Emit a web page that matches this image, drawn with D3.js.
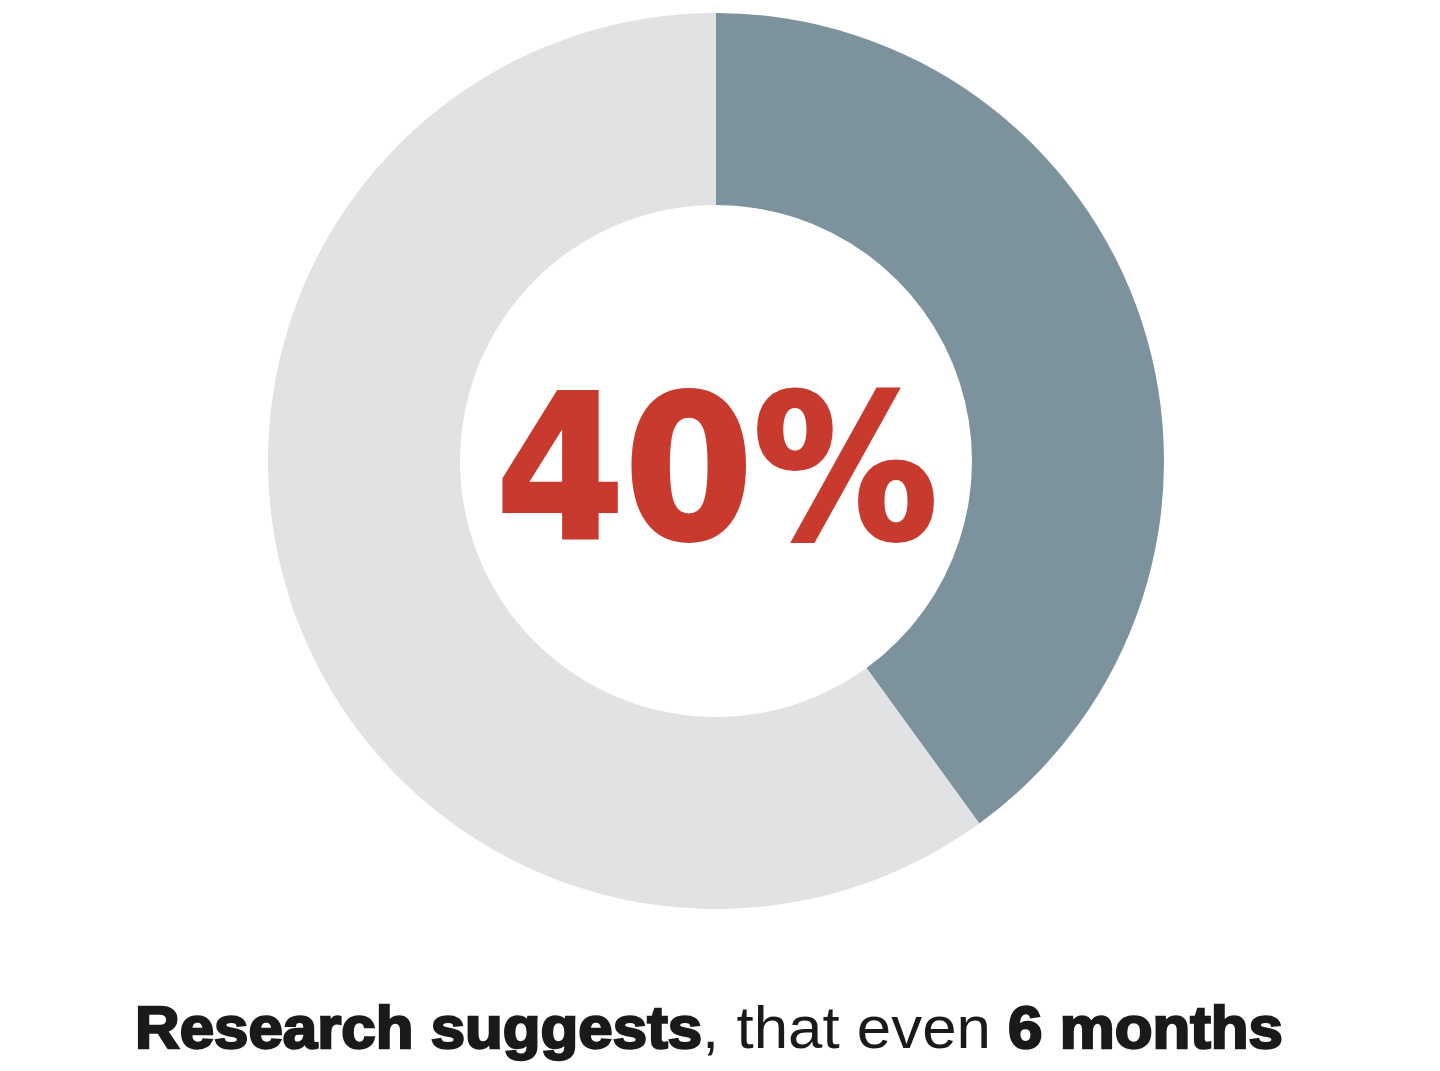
<!DOCTYPE html>
<html>
<head>
<meta charset="utf-8">
<script src="https://cdn.jsdelivr.net/npm/d3@7"></script>
<style>
  html, body { margin: 0; padding: 0; background: #ffffff; }
  svg { display: block; }
</style>
</head>
<body>
<svg id="chart" width="1440" height="1071"></svg>
<script>
// Share of respondents vs. the remainder
const categories = ["Share", "Remainder"];
const values = [40, 60];
const colors = ["#7c929c", "#e1e2e4"];
const centerLabel = "40%";
const captionParts = [
  { text: "Research suggests", bold: true },
  { text: ", that even ", bold: false },
  { text: "6 months", bold: true }
];

const svg = d3.select("#chart");
const cx = 716, cy = 461;
const outerR = 448, innerR = 256;

const pie = d3.pie().sort(null).value(d => d.value);
const arc = d3.arc().innerRadius(innerR).outerRadius(outerR);
const data = categories.map((c, i) => ({ category: c, value: values[i] }));

const g = svg.append("g").attr("transform", `translate(${cx},${cy})`);
g.selectAll("path")
  .data(pie(data))
  .join("path")
  .attr("d", arc)
  .attr("fill", (d, i) => colors[i]);

// Big percentage in the hole
g.append("text")
  .attr("x", 1)
  .attr("y", 77)
  .attr("text-anchor", "middle")
  .attr("font-family", "'DejaVu Sans', Verdana, sans-serif")
  .attr("font-weight", "bold")
  .attr("font-size", 200)
  .attr("textLength", 442)
  .attr("lengthAdjust", "spacingAndGlyphs")
  .attr("fill", "#c83a2e")
  .attr("stroke", "#c83a2e")
  .attr("stroke-width", 4)
  .attr("stroke-linejoin", "miter")
  .text(centerLabel);

// Caption below the ring
const cap = svg.append("text")
  .attr("x", 709)
  .attr("y", 1048)
  .attr("text-anchor", "middle")
  .attr("font-family", "'Liberation Sans', Arial, Helvetica, sans-serif")
  .attr("font-size", 60)
  .attr("textLength", 1148)
  .attr("lengthAdjust", "spacingAndGlyphs")
  .attr("fill", "#1a1a1a");
cap.selectAll("tspan")
  .data(captionParts)
  .join("tspan")
  .attr("font-weight", d => d.bold ? "bold" : "normal")
  .attr("stroke", d => d.bold ? "#1a1a1a" : "none")
  .attr("stroke-width", d => d.bold ? 2.4 : 0)
  .text(d => d.text);
</script>
</body>
</html>
